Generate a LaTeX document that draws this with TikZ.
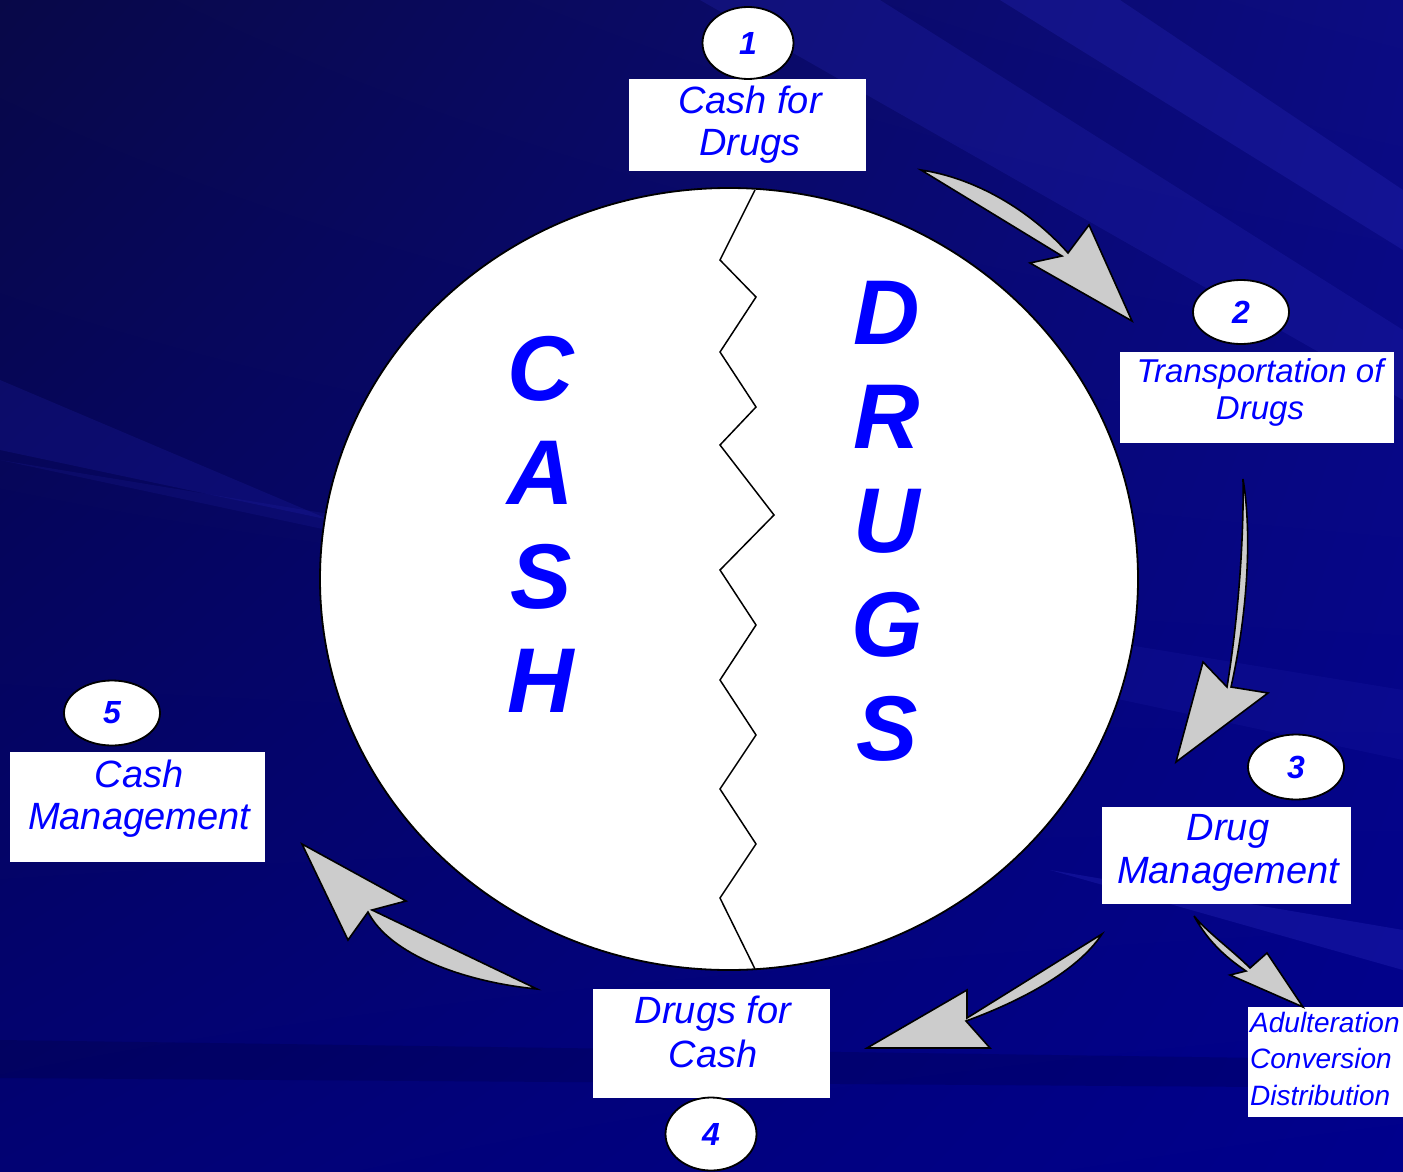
\documentclass[tikz,border=0pt]{standalone}
\usepackage{fontspec}
\setmainfont{Liberation Sans}
\usetikzlibrary{shapes.geometric,shadings}
\definecolor{bgUL}{RGB}{8,8,72}
\definecolor{bgUR}{RGB}{12,12,130}
\definecolor{bgLL}{RGB}{2,2,115}
\definecolor{bgLR}{RGB}{0,0,140}
\definecolor{streak}{RGB}{40,40,185}
\definecolor{txtblue}{RGB}{0,0,255}
\definecolor{arrowgray}{RGB}{204,204,204}
\begin{document}
\begin{tikzpicture}[x=1pt,y=-1pt,
  box/.style={draw=none,fill=white,inner sep=0pt},
  lbl/.style={text=txtblue,font=\fontsize{38}{42}\selectfont\itshape,align=center,inner sep=0pt,anchor=base},
  numoval/.style={ellipse,draw=black,line width=1.8pt,fill=white,inner sep=0pt,text=txtblue,font=\fontsize{32}{32}\selectfont\bfseries\itshape},
  big/.style={text=txtblue,font=\fontsize{92}{92}\selectfont\bfseries\itshape,inner sep=0pt,anchor=base},
  blockarrow/.style={fill=arrowgray,draw=black,line width=1.6pt,line join=miter}]
% background
\useasboundingbox (0,0) rectangle (1403,1172);
\shade[upper left=bgUL,upper right=bgUR,lower left=bgLL,lower right=bgLR] (0,0) rectangle (1403,1172);
\fill[streak,opacity=0.25] (700,0) -- (880,0) -- (1403,330) -- (1403,400) -- cycle;
\fill[streak,opacity=0.3] (1000,0) -- (1120,0) -- (1403,190) -- (1403,250) -- cycle;
\fill[streak,opacity=0.2] (0,380) -- (330,520) -- (0,450) -- cycle;
\fill[streak,opacity=0.35] (1050,870) -- (1403,930) -- (1403,970) -- cycle;
\fill[black,opacity=0.12] (0,1040) -- (1403,1060) -- (1403,1088) -- (0,1078) -- cycle;
\fill[streak,opacity=0.15] (0,460) -- (1403,690) -- (1403,760) -- cycle;

% central disc
\node[ellipse,draw=black,line width=1.8pt,fill=white,minimum width=818pt,minimum height=782pt,inner sep=0pt] (disc) at (729,579) {};
\draw[line width=1.5pt,line join=miter] (755,190) -- (720,260) -- (756,297) -- (720,352) -- (756,407) -- (720,445)
  -- (774,515) -- (720,570) -- (756,625) -- (720,680) -- (756,735) -- (720,789) -- (756,844) -- (720,898) -- (755,969);

% big letters
\foreach \l [count=\i] in {C,A,S,H} \node[big] (cash\i) at (541,296+104*\i) {\l};
\foreach \l [count=\i] in {D,R,U,G,S} \node[big] (drugs\i) at (887,240+104*\i) {\l};

% boxes (text nodes anchored at the baseline of their last line)
\node[box,minimum width=237pt,minimum height=92pt] (b1) at (747.5,125) {};
\node[lbl] (t1) at (750,155) {Cash for\\Drugs};
\node[box,minimum width=274pt,minimum height=91pt] (b2) at (1257,397.5) {};
\node[lbl,font=\fontsize{33}{37}\selectfont\itshape] (t2) at (1260,419) {Transportation of\\Drugs};
\node[box,minimum width=249pt,minimum height=97pt] (b3) at (1226.5,855.5) {};
\node[lbl,font=\fontsize{38}{43}\selectfont\itshape] (t3) at (1228,883) {Drug\\Management};
\node[box,minimum width=255pt,minimum height=110pt] (b5) at (137.5,807) {};
\node[lbl] (t5) at (139,829) {Cash\\Management};
\node[box,minimum width=237pt,minimum height=109pt] (b4) at (711.5,1043.5) {};
\node[lbl,font=\fontsize{38}{44}\selectfont\itshape] (t4) at (713,1067) {Drugs for\\Cash};
\node[box,minimum width=155pt,minimum height=110pt] (b6) at (1325.5,1062) {};
\node[lbl,align=left,anchor=base west,font=\fontsize{28}{36.5}\selectfont\itshape] (t6) at (1250,1105) {Adulteration\\Conversion\\Distribution};

% number ovals
\node[numoval,minimum width=91pt,minimum height=72pt] (n1) at (748,43) {1};
\node[numoval,minimum width=96pt,minimum height=64pt] (n2) at (1241,312) {2};
\node[numoval,minimum width=96pt,minimum height=65pt] (n3) at (1296,767) {3};
\node[numoval,minimum width=91pt,minimum height=73pt] (n4) at (711,1134) {4};
\node[numoval,minimum width=96pt,minimum height=65pt] (n5) at (112,713) {5};

% block arrows
\filldraw[blockarrow] (921,170) .. controls (975,178) and (1030,210) .. (1068,253)
  -- (1089,225) -- (1132,321) -- (1030,263) -- (1062,256) -- cycle;
\filldraw[blockarrow] (1243,479) .. controls (1253,540) and (1246,620) .. (1231,687)
  -- (1268,693) -- (1176,762) -- (1203,662) -- (1227,687) .. controls (1238,620) and (1244,540) .. cycle;
\filldraw[blockarrow] (1102,934) -- (967,1018) -- (967,990) -- (867,1048) -- (990,1048) -- (966,1021)
  .. controls (1010,1005) and (1075,975) .. cycle;
\filldraw[blockarrow] (537,989) -- (372,910) -- (406,901) -- (302,844) -- (348,940) -- (368,912)
  .. controls (390,955) and (465,982) .. cycle;
\filldraw[blockarrow] (1194,916) .. controls (1210,945) and (1230,960) .. (1246,971) -- (1230,975)
  -- (1303,1007) -- (1267,953) -- (1250,968) .. controls (1232,950) and (1207,932) .. cycle;
\end{tikzpicture}
\end{document}
